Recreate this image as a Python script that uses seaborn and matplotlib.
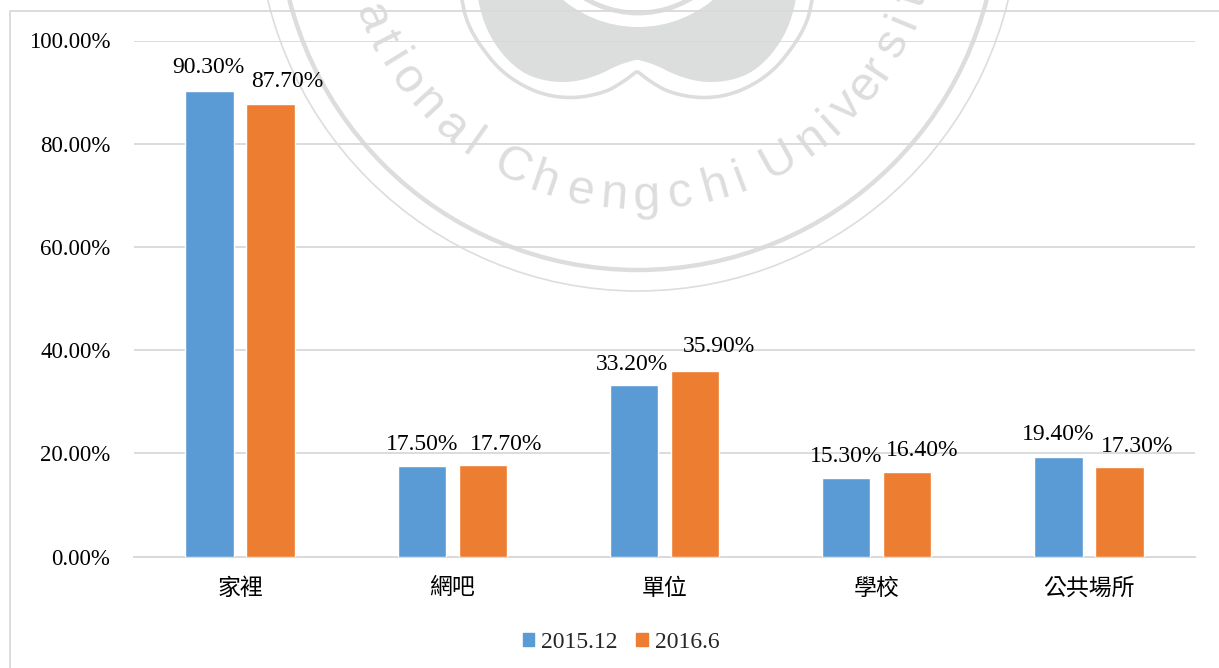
import numpy as np
import pandas as pd
import matplotlib
matplotlib.use('Agg')
import matplotlib.pyplot as plt
import seaborn as sns
from matplotlib.lines import Line2D
from matplotlib.patches import Circle, Polygon
from matplotlib.transforms import Affine2D

W, H = 1219, 668

places = ['家裡', '網吧', '單位', '學校', '公共場所']
dec_2015 = [90.3, 17.5, 33.2, 15.3, 19.4]
jun_2016 = [87.7, 17.7, 35.9, 16.4, 17.3]
series_names = ['2015.12', '2016.6']
colors = ['#5B9BD5', '#ED7D31']
GRID = '#d9d9d9'
MARK = '#dcdedd'

# label nudges in pixels, the labels were moved by hand in the original
nudge_x = [[-1, 0, -2, 0, 0], [17, 23, 24, 15, 18]]
nudge_y = [[23, 22, 21, 21, 22], [22, 21, 25, 22, 21]]

# watermark letters and their angle round the seal (degrees from the bottom)
seal_chars = list('ationalChengchiUniversit')
seal_angles = [-68, -63, -58.4, -53.6, -47.3, -40.6, -35.2, -26.1, -19, -11.6, -4.7, 1.7,
               8.5, 15.6, 20.9, 29.2, 37.2, 42, 46.8, 52.3, 56.8, 62.3, 67.5, 72]

df = pd.DataFrame({
    'place': places * 2,
    'year': [series_names[0]] * 5 + [series_names[1]] * 5,
    'value': dec_2015 + jun_2016,
})

sns.set_theme(style='white')
plt.rcParams['font.family'] = ['Liberation Serif', 'Noto Sans CJK TC']
plt.rcParams['axes.unicode_minus'] = False

fig = plt.figure(figsize=(W / 100, H / 100), dpi=100, facecolor='white')
ax = fig.add_axes([134 / W, 1 - 556.7 / H, (1195 - 134) / W, (556.7 - 40.5) / H])
ax.patch.set_alpha(0)

# pixel coordinates of the picture, y going down
px = Affine2D().scale(1 / W, -1 / H).translate(0, 1) + fig.transFigure

# ====================== watermark ======================
CX, CY = 638, -90


def smooth(points, rounds=3):
    # corner cutting, keeps the two end points
    pts = np.array(points, dtype=float)
    for _ in range(rounds):
        q = 0.75 * pts[:-1] + 0.25 * pts[1:]
        r = 0.25 * pts[:-1] + 0.75 * pts[1:]
        mid = np.empty((len(q) * 2, 2))
        mid[0::2] = q
        mid[1::2] = r
        pts = np.vstack([pts[:1], mid, pts[-1:]])
    return pts


def blob(points):
    left = smooth(points)
    right = left[::-1].copy()
    right[:, 0] = 2 * 637 - right[:, 0]
    return np.vstack([left, right])


fill_pts = [(478, -5), (478, 0), (483, 20), (492, 40), (507, 60), (526, 75), (550, 82),
            (575, 82), (599, 75), (618, 65), (635, 60)]
edge_pts = [(461, -5), (462, 0), (466, 20), (478, 43), (502, 73), (536, 93), (570, 99),
            (604, 93), (623, 82), (636, 72)]

fig.add_artist(Circle((CX, CY), 381, transform=px, fill=False, ec=MARK, lw=1.2, zorder=-5))
fig.add_artist(Circle((CX, CY), 360, transform=px, fill=False, ec=MARK, lw=3.2, zorder=-5))
fig.add_artist(Polygon(blob(edge_pts), closed=False, transform=px, fill=False, ec=MARK, lw=2.6,
                       joinstyle='round', zorder=-5))
fig.add_artist(Polygon(blob(fill_pts), closed=True, transform=px, fc=MARK, ec='none', zorder=-4))
fig.add_artist(Circle((CX, CY), 117, transform=px, fc='white', ec='none', zorder=-3))
fig.add_artist(Circle((CX, CY), 103, transform=px, fill=False, ec=MARK, lw=3.5, zorder=-3))

for ch, ang in zip(seal_chars, seal_angles):
    t = np.radians(ang)
    x = CX + 287 * np.sin(t)
    y = CY + 287 * np.cos(t)
    fig.text(x / W, 1 - y / H, ch, fontsize=35, family='Liberation Sans', color='#dddddd',
             ha='center', va='center', rotation=ang, rotation_mode='anchor', zorder=-2)

# chart frame, only left and top show in the crop
fig.add_artist(Line2D([10, 10, W], [H, 11, 11], transform=px, color=GRID, lw=1.3, zorder=-1))

# ====================== bars ======================
sns.barplot(data=df, x='place', y='value', hue='year', order=places, hue_order=series_names,
            palette=colors, width=0.575, gap=0.205, saturation=1, legend=False, ax=ax, zorder=3)

ax.set_xlim(-0.5, 4.5)
ax.set_ylim(0, 100)
ax.set_yticks([0, 20, 40, 60, 80, 100])
ax.set_yticklabels(['%.2f%%' % v for v in [0, 20, 40, 60, 80, 100]])
ax.set_xlabel('')
ax.set_ylabel('')
ax.grid(axis='y', color=GRID, lw=1.3, zorder=0)
ax.set_axisbelow(True)
ax.tick_params(axis='y', length=0, pad=17, labelsize=16.5, labelcolor='black')
ax.tick_params(axis='x', length=0, pad=15.5, labelsize=16.5, labelcolor='black')
sns.despine(ax=ax, left=True)
ax.spines['bottom'].set_color(GRID)
ax.spines['bottom'].set_linewidth(1.4)

for i, container in enumerate(ax.containers):
    for j, bar in enumerate(container):
        ax.annotate('%.2f%%' % bar.get_height(),
                    (bar.get_x() + bar.get_width() / 2, bar.get_height()),
                    xytext=(nudge_x[i][j], nudge_y[i][j]), textcoords='offset pixels',
                    ha='center', va='center', fontsize=17, color='black', zorder=5)

handles = [plt.Rectangle((0, 0), 1, 1, color=c) for c in colors]
fig.legend(handles, series_names, loc='center', bbox_to_anchor=(621 / W, 1 - 642 / H), ncol=2,
           frameon=False, fontsize=17, handlelength=0.48, handleheight=0.48,
           handletextpad=0.3, columnspacing=0.8, borderpad=0)

fig.savefig('out.png', dpi=100)
